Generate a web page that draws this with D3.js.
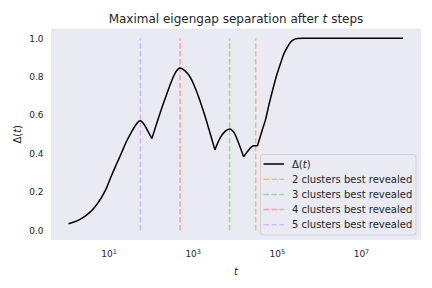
<!DOCTYPE html>
<html>
<head>
<meta charset="utf-8">
<script src="https://cdn.jsdelivr.net/npm/d3@7"></script>
<style>
	body { margin: 0; background: #ffffff; }
	text { font-family: "DejaVu Sans", sans-serif; fill: #262626; }
</style>
</head>
<body>
<svg id="chart" width="432" height="288"></svg>
<script>
// Delta(t)
var steps = [1.12, 2.0, 2.95, 4.47, 6.76, 8.91, 11.5, 15.1, 20, 26.3, 34.7, 44.7, 56.2, 70.8, 89.1,
	107, 141, 178, 234, 302, 398, 501, 661, 912, 1202, 1549, 1995, 2455, 2884, 3388,
	4467, 5888, 7586, 9550, 12589, 16218, 19953, 25119, 28184, 34674, 44668, 53703,
	66069, 83176, 100000, 123027, 147911, 177828, 213796, 251189, 316228, 407380,
	3162278, 100000000];
var gap = [0.035, 0.055, 0.078, 0.115, 0.17, 0.22, 0.28, 0.34, 0.40, 0.46, 0.51, 0.55, 0.57, 0.55, 0.51,
	0.477, 0.56, 0.627, 0.70, 0.767, 0.825, 0.845, 0.83, 0.79, 0.73, 0.663, 0.59, 0.523, 0.47, 0.42,
	0.48, 0.515, 0.528, 0.51, 0.45, 0.383, 0.41, 0.435, 0.44, 0.44, 0.52, 0.575,
	0.66, 0.746, 0.81, 0.87, 0.92, 0.953, 0.98, 0.993, 0.999, 1.0,
	1.0, 1.0];
// sharp corners of the curve (where the max switches branch)
var corners = [107, 3388, 16218, 34674];

// vertical markers
var markerLabels = ["2 clusters best revealed", "3 clusters best revealed", "4 clusters best revealed", "5 clusters best revealed"];
var markerSteps = [31400, 7540, 500, 57];
var markerColors = ["#ffb482", "#8de5a1", "#ff9f9b", "#d0bbff"];

var xTicks = [10, 1000, 100000, 10000000];
var yTicks = [0.0, 0.2, 0.4, 0.6, 0.8, 1.0];

var svg = d3.select("#chart");
var plotL = 51, plotR = 421, plotT = 28.6, plotB = 240;

// log x with 5% padding in log space
var lo = Math.log10(d3.min(steps)), hi = Math.log10(d3.max(steps));
var pad = (hi - lo) * 0.05;
var x = d3.scaleLog()
	.domain([Math.pow(10, lo - pad - 0.02), Math.pow(10, hi + pad + 0.03)])
	.range([plotL, plotR]);
var y = d3.scaleLinear()
	.domain([-0.05, 1.05])
	.range([plotB, plotT]);

// background
svg.append("rect")
	.attr("x", plotL)
	.attr("y", plotT)
	.attr("width", plotR - plotL)
	.attr("height", plotB - plotT)
	.attr("fill", "#eaeaf2");

// title
var title = svg.append("text")
	.attr("x", (plotL + plotR) / 2)
	.attr("y", 22.5)
	.attr("text-anchor", "middle")
	.style("font-size", "12px");
title.append("tspan").text("Maximal eigengap separation after ");
title.append("tspan").text("t").style("font-style", "italic");
title.append("tspan").text(" steps");

// y axis
var yAxis = svg.append("g")
	.attr("transform", "translate(" + plotL + ",0)")
	.call(d3.axisLeft(y).tickValues(yTicks).tickFormat(d3.format(".1f")).tickSize(0).tickPadding(7.5));
yAxis.select(".domain").remove();
yAxis.selectAll("text")
	.style("font-size", "9px")
	.style("font-family", "DejaVu Sans")
	.attr("fill", "#262626");

// x axis
var xAxis = svg.append("g")
	.attr("transform", "translate(0," + plotB + ")")
	.call(d3.axisBottom(x).tickValues(xTicks).tickFormat("").tickSize(0));
xAxis.select(".domain").remove();
xAxis.selectAll(".tick").each(function(d) {
	var t = d3.select(this).append("text")
		.attr("y", 17)
		.attr("text-anchor", "middle")
		.style("font-size", "9px");
	t.append("tspan").text("10");
	t.append("tspan")
		.text(Math.round(Math.log10(d)))
		.attr("dy", -3.5)
		.style("font-size", "6.5px");
});

// axis labels
svg.append("text")
	.attr("x", (plotL + plotR) / 2)
	.attr("y", 275)
	.attr("text-anchor", "middle")
	.style("font-size", "10px")
	.style("font-style", "italic")
	.text("t");

var ylab = svg.append("text")
	.attr("transform", "translate(21," + ((plotT + plotB) / 2) + ") rotate(-90)")
	.attr("text-anchor", "middle")
	.style("font-size", "10px");
ylab.append("tspan").text("Δ(");
ylab.append("tspan").text("t").style("font-style", "italic");
ylab.append("tspan").text(")");

// dashed markers from 0 to 1
svg.selectAll(".marker")
	.data(markerSteps)
	.enter().append("line")
	.attr("class", "marker")
	.attr("x1", function(d) { return x(d); })
	.attr("x2", function(d) { return x(d); })
	.attr("y1", y(0))
	.attr("y2", y(1))
	.attr("stroke", function(d, i) { return markerColors[i]; })
	.attr("stroke-width", 1.5)
	.attr("stroke-dasharray", "5.5,2.4");

// the curve, smooth between corners
var pts = steps.map(function(s, i) { return [s, gap[i]]; });
var pieces = [[]];
pts.forEach(function(p) {
	pieces[pieces.length - 1].push(p);
	if (corners.indexOf(p[0]) >= 0) pieces.push([p]);
});

var line = d3.line()
	.x(function(d) { return x(d[0]); })
	.y(function(d) { return y(d[1]); })
	.curve(d3.curveMonotoneX);

svg.append("path")
	.attr("d", pieces.map(function(p) { return line(p); }).join(""))
	.attr("fill", "none")
	.attr("stroke", "#000000")
	.attr("stroke-width", 1.5)
	.attr("stroke-linejoin", "round");

// legend
var legend = svg.append("g");
legend.append("rect")
	.attr("x", 260.5)
	.attr("y", 154.5)
	.attr("width", 155.5)
	.attr("height", 80.5)
	.attr("rx", 2.5)
	.attr("fill", "#eaeaf2")
	.attr("fill-opacity", 0.8)
	.attr("stroke", "#cccccc")
	.attr("stroke-width", 0.8);

var entries = [{ label: null, color: "#000000", dash: null }];
markerLabels.forEach(function(l, i) {
	entries.push({ label: l, color: markerColors[i], dash: "5.5,2.4" });
});

var rows = legend.selectAll(".entry")
	.data(entries)
	.enter().append("g")
	.attr("class", "entry")
	.attr("transform", function(d, i) { return "translate(0," + (164 + i * 15.2) + ")"; });

rows.append("line")
	.attr("x1", 263.5)
	.attr("x2", 284)
	.attr("stroke", function(d) { return d.color; })
	.attr("stroke-width", 1.5)
	.attr("stroke-dasharray", function(d) { return d.dash; });

rows.each(function(d) {
	var t = d3.select(this).append("text")
		.attr("x", 292)
		.attr("dy", "0.35em")
		.style("font-size", "10px");
	if (d.label) {
		t.text(d.label);
	} else {
		t.append("tspan").text("Δ(");
		t.append("tspan").text("t").style("font-style", "italic");
		t.append("tspan").text(")");
	}
});
</script>
</body>
</html>
